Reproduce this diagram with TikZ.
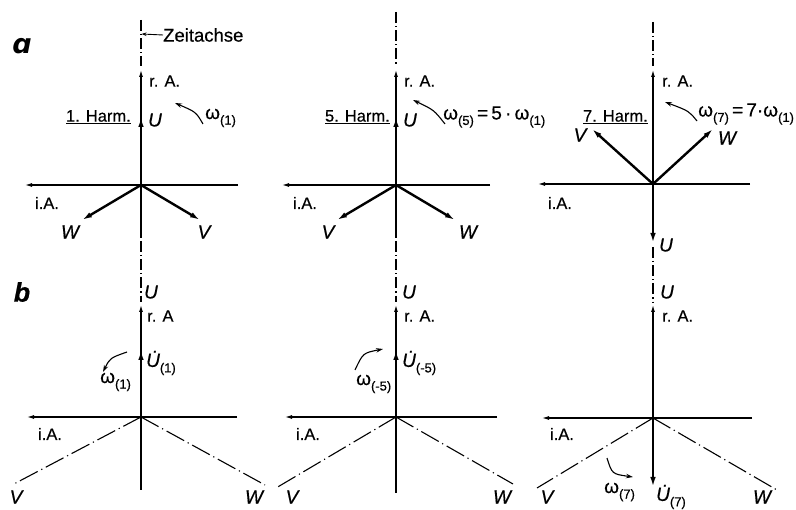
\documentclass[tikz,border=0pt]{standalone}
\usepackage{fontspec}
\setmainfont{Liberation Sans}[FakeBold=0.5]
\newfontfamily\dvfont{DejaVu Sans}
\usetikzlibrary{arrows.meta}
\newcommand\omsub[1]{ω\raisebox{-0.55ex}{\fontsize{13}{14}\selectfont(#1)}}
\newcommand\udotsub[1]{{\itshape U\char"0307}\raisebox{-0.55ex}{\fontsize{13}{14}\selectfont(#1)}}
\begin{document}
\begin{tikzpicture}[x=1pt,y=-1pt,
  ax/.style={line width=1.1pt},
  dd/.style={line width=1.1pt, dash pattern=on 11pt off 3pt on 1.2pt off 3pt},
  ddl/.style={line width=1.1pt, dash pattern=on 20pt off 4pt on 1.2pt off 4pt},
  axarr/.style={line width=1.1pt,-{Latex[length=7pt,width=4pt]}},
  vec/.style={line width=2.4pt,-{Latex[length=10pt,width=5.5pt]}},
  curv/.style={line width=1.1pt,-{Stealth[length=7pt,width=4.5pt]}},
  lbl/.style={font=\fontsize{16.5}{18}\selectfont, inner sep=0pt},
  vl/.style={font=\fontsize{19}{21}\selectfont\itshape, inner sep=0pt},
  om/.style={font=\fontsize{19}{21}\selectfont, inner sep=0pt},
  big/.style={font=\fontsize{27}{29}\selectfont\bfseries\itshape, inner sep=0pt}]
\useasboundingbox (0,0) rectangle (796,510);

% ---------------- panel labels
\node[big] (la) at (22,46) {\dvfont\bfseries\itshape ɑ};
\node[big] (lb) at (22,292) {b};

% ================= a1 =================
\coordinate (O1) at (141,185);
\coordinate (T1) at (141,20);
\coordinate (R1) at (141,70);
\coordinate (R1d) at (141,66);
\coordinate (D1) at (141,238);
\coordinate (D1b) at (141,241);
\coordinate (Q1) at (141,302);
\coordinate (H1r) at (238,185);
\coordinate (H1l) at (25,185);
\coordinate (U1) at (141,117);
\coordinate (W1) at (82,220);
\coordinate (V1) at (200,220);
\draw[dd] (T1) -- (R1d);
\draw[axarr] (O1) -- (R1);
\draw[ax] (O1) -- (D1);
\draw[dd] (D1b) -- (Q1);
\draw[axarr] (H1r) -- (H1l);
\draw[vec] (O1) -- (U1);
\draw[vec] (O1) -- (W1);
\draw[vec] (O1) -- (V1);
\node[lbl,anchor=west] (ra1) at (149,81) {r. A.};
\node[lbl] (ia1) at (47,203) {i.A.};
\node[vl] (lu1) at (155,120) {U};
\node[vl] (lw1) at (70,232) {W};
\node[vl] (lv1) at (204,232) {V};
\node[lbl,anchor=east] (h1) at (131,117) {\underline{1. Harm.}};
\node[om,anchor=west] (w1) at (205,118) {\omsub{1}};
\node[lbl,anchor=west,font=\fontsize{18.5}{20}\selectfont] (zeit) at (163,35) {Zeitachse};
\coordinate (z1) at (141.5,34);
\draw[line width=0.9pt,-{Stealth[length=5pt,width=3.5pt]}] (zeit.west) -- (z1);
\coordinate (c1s) at (203,124);
\coordinate (c1c) at (196,112);
\coordinate (c1e) at (175,103);
\draw[curv] (c1s) .. controls (c1c) .. (c1e);

% ================= a2 =================
\coordinate (O2) at (396,185);
\coordinate (T2) at (396,12);
\coordinate (R2) at (396,70);
\coordinate (R2d) at (396,66);
\coordinate (D2) at (396,238);
\coordinate (D2b) at (396,241);
\coordinate (Q2) at (396,302);
\coordinate (H2r) at (490,185);
\coordinate (H2l) at (282,185);
\coordinate (U2) at (396,117);
\coordinate (V2) at (337,220);
\coordinate (W2) at (455,220);
\draw[dd] (T2) -- (R2d);
\draw[axarr] (O2) -- (R2);
\draw[ax] (O2) -- (D2);
\draw[dd] (D2b) -- (Q2);
\draw[axarr] (H2r) -- (H2l);
\draw[vec] (O2) -- (U2);
\draw[vec] (O2) -- (V2);
\draw[vec] (O2) -- (W2);
\node[lbl,anchor=west] (ra2) at (404,81) {r. A.};
\node[lbl] (ia2) at (305,203) {i.A.};
\node[vl] (lu2) at (410,120) {U};
\node[vl] (lv2) at (328,232) {V};
\node[vl] (lw2) at (468,232) {W};
\node[lbl,anchor=east] (h2) at (390,117) {\underline{5. Harm.}};
\node[om,anchor=west] (w2) at (443,117) {\omsub{5}\,=\,5\,·\,\omsub{1}};
\coordinate (c2s) at (445,124);
\coordinate (c2c) at (434,110);
\coordinate (c2e) at (413,100);
\draw[curv] (c2s) .. controls (c2c) .. (c2e);

% ================= a3 =================
\coordinate (O3) at (653,184);
\coordinate (T3) at (653,22);
\coordinate (R3) at (653,70);
\coordinate (R3d) at (653,66);
\coordinate (D3b) at (653,247);
\coordinate (Q3) at (653,302);
\coordinate (H3r) at (750,184);
\coordinate (H3l) at (538,184);
\coordinate (U3) at (653,243);
\coordinate (V3) at (592,129);
\coordinate (W3) at (713,129);
\draw[dd] (T3) -- (R3d);
\draw[axarr] (O3) -- (R3);
\draw[dd] (D3b) -- (Q3);
\draw[axarr] (H3r) -- (H3l);
\draw[vec] (O3) -- (U3);
\draw[vec] (O3) -- (V3);
\draw[vec] (O3) -- (W3);
\node[lbl,anchor=west] (ra3) at (662,81) {r. A.};
\node[lbl] (ia3) at (560,203) {i.A.};
\node[vl] (lu3) at (666,245) {U};
\node[vl] (lv3) at (580,135) {V};
\node[vl] (lw3) at (727,138) {W};
\node[lbl,anchor=east] (h3) at (648,117) {\underline{7. Harm.}};
\node[om,anchor=west] (w3) at (698,114) {\omsub{7}\,=\,7·\omsub{1}};
\coordinate (c3s) at (697,121);
\coordinate (c3c) at (689,111);
\coordinate (c3e) at (665,102);
\draw[curv] (c3s) .. controls (c3c) .. (c3e);

% ================= b1 =================
\coordinate (O4) at (141,417);
\coordinate (R4) at (141,305);
\coordinate (B4) at (141,490);
\coordinate (H4r) at (237,417);
\coordinate (H4l) at (27,417);
\coordinate (U4) at (141,350);
\coordinate (V4) at (12,485);
\coordinate (W4) at (265,485);
\draw[axarr] (O4) -- (R4);
\draw[ax] (O4) -- (B4);
\draw[axarr] (H4r) -- (H4l);
\draw[ddl] (O4) -- (V4);
\draw[ddl] (O4) -- (W4);
\draw[vec] (O4) -- (U4);
\node[vl] (lu4) at (151,292) {U};
\node[lbl,anchor=west] (ra4) at (147,316) {r. A};
\node[om,anchor=west] (ud4) at (146,363) {\udotsub{1}};
\node[om,anchor=west] (w4) at (100,382) {\omsub{1}};
\node[lbl] (ia4) at (50,434) {i.A.};
\node[vl] (lv4) at (16,497) {V};
\node[vl] (lw4) at (254,497) {W};
\coordinate (c4s) at (127,352);
\coordinate (c4c) at (110,358);
\coordinate (c4e) at (103,372);
\draw[curv] (c4s) .. controls (c4c) .. (c4e);

% ================= b2 =================
\coordinate (O5) at (396,417);
\coordinate (R5) at (396,305);
\coordinate (B5) at (396,493);
\coordinate (H5r) at (497,417);
\coordinate (H5l) at (285,417);
\coordinate (U5) at (396,350);
\coordinate (V5) at (276,488);
\coordinate (W5) at (513,484);
\draw[axarr] (O5) -- (R5);
\draw[ax] (O5) -- (B5);
\draw[axarr] (H5r) -- (H5l);
\draw[ddl] (O5) -- (V5);
\draw[ddl] (O5) -- (W5);
\draw[vec] (O5) -- (U5);
\node[vl] (lu5) at (409,292) {U};
\node[lbl,anchor=west] (ra5) at (404,316) {r. A.};
\node[om,anchor=west] (ud5) at (402,363) {\udotsub{-5}};
\node[om,anchor=west] (w5) at (356,384) {\omsub{-5}};
\node[lbl] (ia5) at (308,434) {i.A.};
\node[vl] (lv5) at (292,497) {V};
\node[vl] (lw5) at (502,497) {W};
\coordinate (c5s) at (355,370);
\coordinate (c5c) at (363,353);
\coordinate (c5e) at (383,349);
\draw[curv] (c5s) .. controls (c5c) .. (c5e);

% ================= b3 =================
\coordinate (O6) at (653,418);
\coordinate (R6) at (653,305);
\coordinate (H6r) at (752,418);
\coordinate (H6l) at (542,418);
\coordinate (U6) at (653,487);
\coordinate (V6) at (537,488);
\coordinate (W6) at (777,490);
\draw[axarr] (O6) -- (R6);
\draw[axarr] (H6r) -- (H6l);
\draw[ddl] (O6) -- (V6);
\draw[ddl] (O6) -- (W6);
\draw[vec] (O6) -- (U6);
\node[vl] (lu6) at (667,292) {U};
\node[lbl,anchor=west] (ra6) at (662,316) {r. A.};
\node[om,anchor=west] (ud6) at (656,497) {\udotsub{7}};
\node[om,anchor=west] (w6) at (604,492) {\omsub{7}};
\node[lbl] (ia6) at (562,434) {i.A.};
\node[vl] (lv6) at (547,497) {V};
\node[vl] (lw6) at (762,497) {W};
\coordinate (c6s) at (607,458);
\coordinate (c6c) at (612,474);
\coordinate (c6e) at (633,477);
\draw[curv] (c6s) .. controls (c6c) .. (c6e);
\end{tikzpicture}
\end{document}
